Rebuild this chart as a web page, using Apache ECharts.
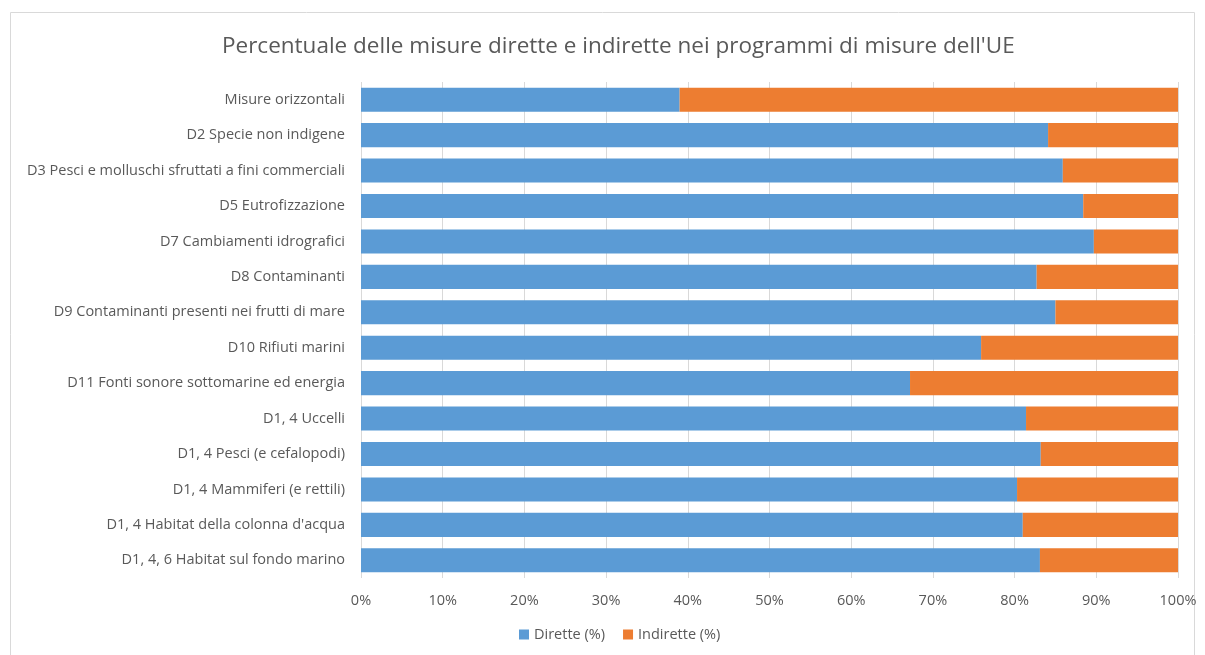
<!DOCTYPE html>
<html>
<head>
<meta charset="utf-8">
<script src="https://cdn.jsdelivr.net/npm/echarts@6/dist/echarts.min.js"></script>
<style>
  html, body { margin: 0; padding: 0; background: #fff; }
  #chart { width: 1205px; height: 655px; }
</style>
</head>
<body>
<div id="chart"></div>
<script>
// categorie, dall'alto verso il basso
const categorie = [
  'Misure orizzontali',
  'D2 Specie non indigene',
  'D3 Pesci e molluschi sfruttati a fini commerciali',
  'D5 Eutrofizzazione',
  'D7 Cambiamenti idrografici',
  'D8 Contaminanti',
  'D9 Contaminanti presenti nei frutti di mare',
  'D10 Rifiuti marini',
  'D11 Fonti sonore sottomarine ed energia',
  'D1, 4 Uccelli',
  'D1, 4 Pesci (e cefalopodi)',
  'D1, 4 Mammiferi (e rettili)',
  "D1, 4 Habitat della colonna d'acqua",
  'D1, 4, 6 Habitat sul fondo marino'
]
const dirette = [39.0, 84.1, 85.9, 88.4, 89.7, 82.7, 85.0, 75.9, 67.2, 81.4, 83.2, 80.3, 81.0, 83.1]
const indirette = dirette.map(v => +(100 - v).toFixed(1))

const testo = '#595959'
const font = 'Open Sans'

const myChart = echarts.init(document.getElementById('chart'))
myChart.setOption({
  animation: false,
  textStyle: { fontFamily: font },
  title: {
    text: "Percentuale delle misure dirette e indirette nei programmi di misure dell'UE",
    left: 217,
    top: 30,
    textStyle: { color: testo, fontSize: 22.5, fontWeight: 'normal', fontFamily: font }
  },
  legend: {
    bottom: 8,
    left: 514,
    icon: 'rect',
    itemWidth: 10,
    itemHeight: 10,
    itemGap: 18,
    itemStyle: { borderWidth: 0 },
    textStyle: { color: testo, fontSize: 14.5 },
    data: ['Dirette (%)', 'Indirette (%)']
  },
  grid: { left: 361, right: 27, top: 82, bottom: 77 },
  xAxis: {
    type: 'value',
    min: 0,
    max: 100,
    interval: 10,
    axisLabel: { formatter: '{value}%', color: testo, fontSize: 14.5, margin: 15 },
    axisLine: { show: false },
    axisTick: { show: false },
    splitLine: { lineStyle: { color: '#d9d9d9' } }
  },
  yAxis: {
    type: 'category',
    inverse: true,
    data: categorie,
    axisLabel: { color: testo, fontSize: 14.5, margin: 16 },
    axisLine: { show: false },
    axisTick: { show: false }
  },
  series: [
    {
      name: 'Dirette (%)',
      type: 'bar',
      stack: 'tot',
      barWidth: '68%',
      itemStyle: { color: '#5b9bd5' },
      data: dirette
    },
    {
      name: 'Indirette (%)',
      type: 'bar',
      stack: 'tot',
      barWidth: '68%',
      itemStyle: { color: '#ed7d31' },
      data: indirette
    }
  ],
  graphic: [{
    type: 'rect',
    shape: { x: 10.5, y: 12.5, width: 1184, height: 650 },
    style: { fill: 'none', stroke: '#d9d9d9', lineWidth: 1 },
    silent: true
  }]
})
</script>
</body>
</html>
